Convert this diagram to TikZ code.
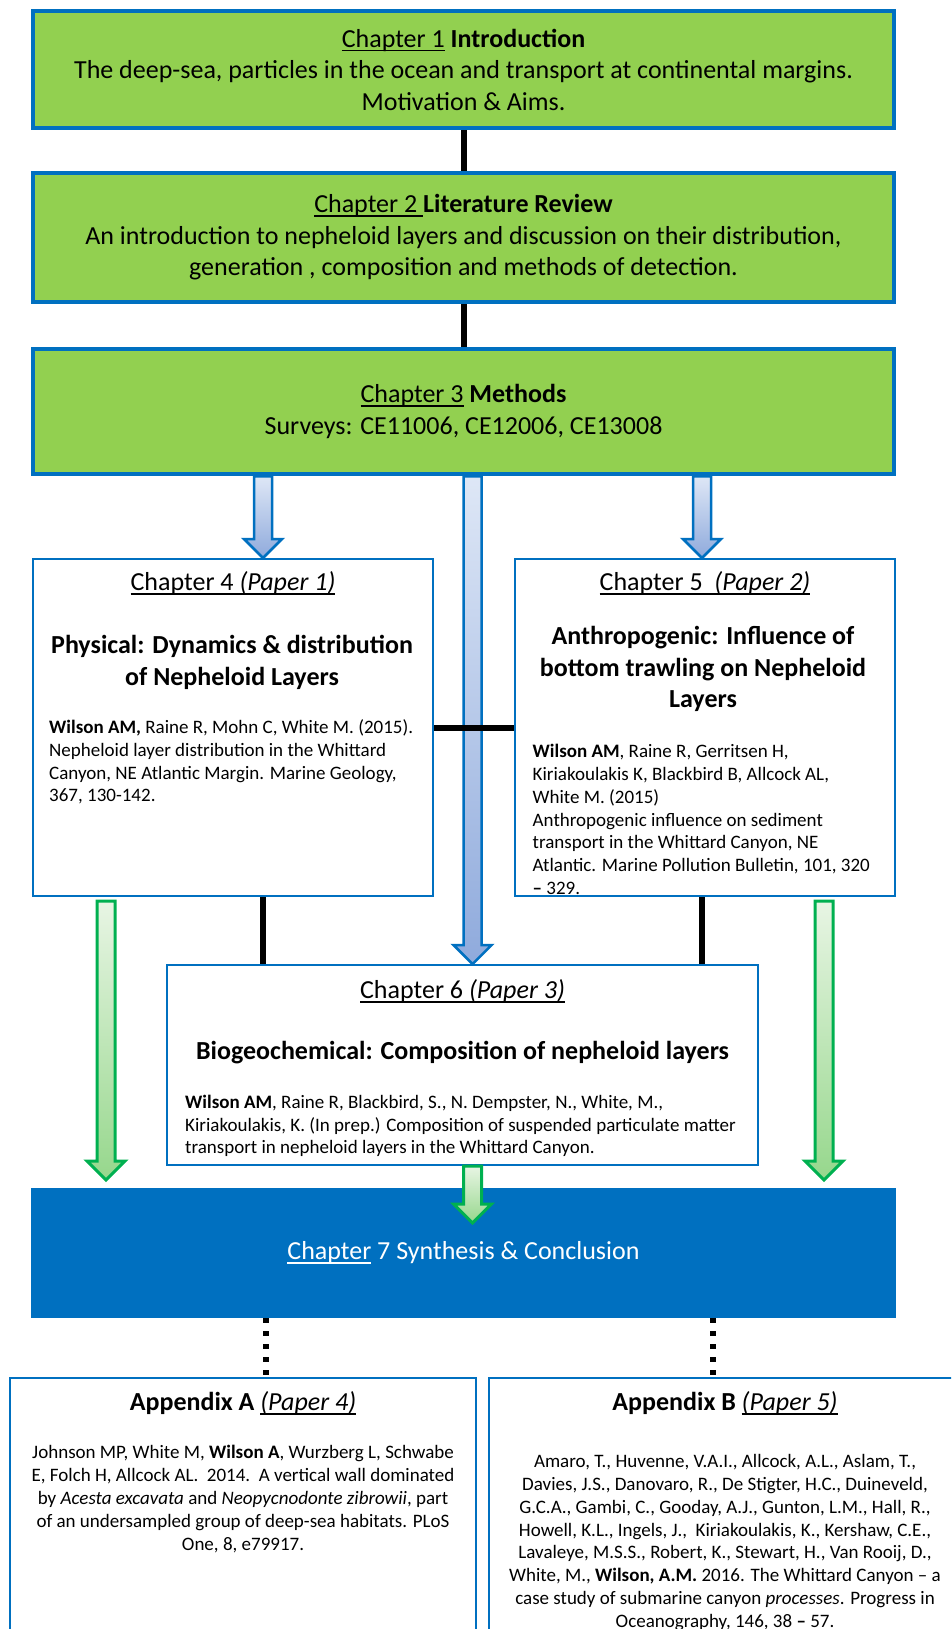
\documentclass[tikz,border=0pt]{standalone}
\usepackage{fontspec}
\setmainfont{Carlito}
\usetikzlibrary{calc}
\definecolor{boxgreen}{RGB}{146,208,80}
\definecolor{boxblue}{RGB}{0,112,192}
\definecolor{arrgreen}{RGB}{0,176,80}
\definecolor{blueA}{RGB}{222,231,246}
\definecolor{blueB}{RGB}{143,170,220}
\definecolor{greenA}{RGB}{232,245,228}
\definecolor{greenB}{RGB}{150,215,140}
\newcommand{\chapul}[1]{\leavevmode\setbox0=\hbox{#1}\rlap{\rule[-0.17em]{\wd0}{0.07em}}\box0\relax}
\newcommand{\fatarrow}[3]{\path[#1] ($(#2)+(-9,0)$) -- ($(#3)+(-9,-19)$) -- ($(#3)+(-19,-19)$) -- (#3) -- ($(#3)+(19,-19)$) -- ($(#3)+(9,-19)$) -- ($(#2)+(9,0)$) -- cycle;}
\begin{document}
\begin{tikzpicture}[x=1pt,y=-1pt,
  bigfont/.style={font=\fontsize{26}{31.5}\selectfont},
  smallfont/.style={font=\fontsize{19}{22.8}\selectfont},
  greenbox/.style={draw=boxblue,line width=4.5pt,fill=boxgreen,bigfont,align=center,minimum width=861pt},
  whitebox/.style={draw=boxblue,line width=2pt,fill=white},
  link/.style={black,line width=6pt},
  dotlink/.style={black,line width=6pt,dash pattern=on 5pt off 8pt},
  bluearrow/.style={draw=boxblue,line width=2.5pt,top color=blueA,bottom color=blueB},
  greenarrow/.style={draw=arrgreen,line width=3pt,top color=greenA,bottom color=greenB}]
\tikzstyle{every node}+=[inner sep=0pt]
\useasboundingbox (0,0) rectangle (951,1629);
\clip (0,0) rectangle (951,1629);
\coordinate (lx) at (263,0);
\coordinate (rx) at (702,0);
\coordinate (mx) at (472.5,0);
\coordinate (gl) at (106,0);
\coordinate (gr) at (824,0);
\coordinate (ax) at (266,0);
\coordinate (bx) at (713,0);
\node[greenbox,minimum height=117pt] (ch1) at (463.5,69.5) {\chapul{Chapter 1} \textbf{Introduction}\\The deep-sea, particles in the ocean and transport at continental margins.\\Motivation \& Aims.};
\node[greenbox,minimum height=129pt] (ch2) at (463.5,237.5) {\chapul{Chapter 2\ }\textbf{Literature Review}\\An introduction to nepheloid layers and discussion on their distribution,\\generation , composition and methods of detection.};
\node[greenbox,minimum height=125pt] (ch3) at (463.5,411.5) {\chapul{Chapter 3} \textbf{Methods}\\Surveys: CE11006, CE12006, CE13008};
\node[whitebox,minimum width=400pt,minimum height=337pt] (ch4) at (233,727.5) {};
\node[whitebox,minimum width=380pt,minimum height=337pt] (ch5) at (705,727.5) {};
\node[whitebox,minimum width=591pt,minimum height=200pt] (ch6) at (462.5,1065) {};
\node[draw=boxblue,fill=boxblue,line width=2pt,minimum width=863pt,minimum height=128pt,bigfont,text=white] (ch7) at (463.5,1253) {\chapul{Chapter} 7 Synthesis \& Conclusion};
\node[whitebox,minimum width=466pt,minimum height=330pt] (appa) at (243,1543) {};
\node[whitebox,minimum width=472pt,minimum height=330pt] (appb) at (725,1543) {};
\node[bigfont] (ch4title) at (233,583) {\chapul{Chapter 4 \textit{(Paper 1)}}};
\node[bigfont,align=center] (ch4head) at (232,662.5) {\textbf{Physical: Dynamics \& distribution}\\\textbf{of Nepheloid Layers}};
\node[smallfont,align=left,anchor=west] (ch4cite) at (49,762) {\textbf{Wilson AM,} Raine R, Mohn C, White M. (2015).\\Nepheloid layer distribution in the Whittard\\Canyon, NE Atlantic Margin. Marine Geology,\\367, 130-142.};
\node[bigfont] (ch5title) at (705,583) {\chapul{Chapter 5\ \ \textit{(Paper 2)}}};
\node[bigfont,align=center] (ch5head) at (703,669) {\textbf{Anthropogenic: Influence of}\\\textbf{bottom trawling on Nepheloid}\\\textbf{Layers}};
\node[smallfont,align=left,anchor=west] (ch5cite) at (532.5,819.5) {\textbf{Wilson AM}, Raine R, Gerritsen H,\\Kiriakoulakis K, Blackbird B, Allcock AL,\\White M. (2015)\\Anthropogenic influence on sediment\\transport in the Whittard Canyon, NE\\Atlantic. Marine Pollution Bulletin, 101, 320\\\textbf{–} 329.};
\node[bigfont] (ch6title) at (462.5,991) {\chapul{Chapter 6 \textit{(Paper 3)}}};
\node[bigfont] (ch6head) at (462.5,1053) {\textbf{Biogeochemical: Composition of nepheloid layers}};
\node[smallfont,align=left,anchor=west] (ch6cite) at (185,1126) {\textbf{Wilson AM}, Raine R, Blackbird, S., N. Dempster, N., White, M.,\\Kiriakoulakis, K. (In prep.) Composition of suspended particulate matter\\transport in nepheloid layers in the Whittard Canyon.};
\node[bigfont] (appahead) at (243,1403) {\textbf{Appendix A} \chapul{\textit{(Paper 4)}}};
\node[smallfont,align=center] (appacite) at (243,1499) {Johnson MP, White M, \textbf{Wilson A}, Wurzberg L, Schwabe\\E, Folch H, Allcock AL.\ \ 2014.\ \ A vertical wall dominated\\by \textit{Acesta excavata} and \textit{Neopycnodonte zibrowii}, part\\of an undersampled group of deep-sea habitats. PLoS\\One, 8, e79917.};
\node[bigfont] (appbhead) at (725,1403) {\textbf{Appendix B} \chapul{\textit{(Paper 5)}}};
\node[smallfont,align=center] (appbcite) at (725,1542.5) {Amaro, T., Huvenne, V.A.I., Allcock, A.L., Aslam, T.,\\Davies, J.S., Danovaro, R., De Stigter, H.C., Duineveld,\\G.C.A., Gambi, C., Gooday, A.J., Gunton, L.M., Hall, R.,\\Howell, K.L., Ingels, J.,\ \ Kiriakoulakis, K., Kershaw, C.E.,\\Lavaleye, M.S.S., Robert, K., Stewart, H., Van Rooij, D.,\\White, M., \textbf{Wilson, A.M.} 2016. The Whittard Canyon – a\\case study of submarine canyon \textit{processes}. Progress in\\Oceanography, 146, 38 \textbf{–} 57.};
\coordinate (g1a) at ($(gl |- ch4.south)+(0,4)$);
\coordinate (g1b) at ($(gl |- ch7.north)+(0,-8)$);
\coordinate (g2a) at ($(gr |- ch5.south)+(0,4)$);
\coordinate (g2b) at ($(gr |- ch7.north)+(0,-8)$);
\coordinate (g3b) at ($(mx |- ch7.north)+(0,35)$);
\fatarrow{bluearrow}{lx |- ch3.south}{lx |- ch4.north}
\fatarrow{bluearrow}{rx |- ch3.south}{rx |- ch5.north}
\fatarrow{bluearrow}{mx |- ch3.south}{mx |- ch6.north}
\fatarrow{greenarrow}{g1a}{g1b}
\fatarrow{greenarrow}{g2a}{g2b}
\fatarrow{greenarrow}{mx |- ch6.south}{g3b}
\draw[link] (ch1) -- (ch2);
\draw[link] (ch2) -- (ch3);
\draw[link] (ch4) -- (ch5);
\draw[link] (ch4.south -| lx) -- (ch6.north -| lx);
\draw[link] (ch5.south -| rx) -- (ch6.north -| rx);
\draw[dotlink] (ch7.south -| ax) -- (appa.north -| ax);
\draw[dotlink] (ch7.south -| bx) -- (appb.north -| bx);
\end{tikzpicture}
\end{document}
